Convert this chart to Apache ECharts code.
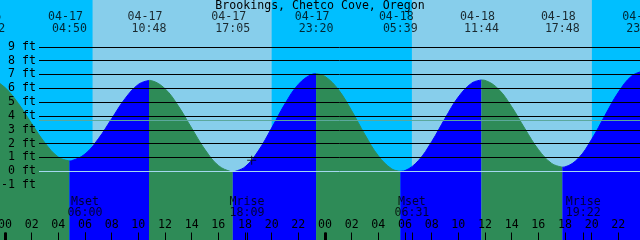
<!DOCTYPE html>
<html><head><meta charset="utf-8">
<script src="https://cdn.jsdelivr.net/npm/echarts@6/dist/echarts.min.js"></script>
<style>html,body{margin:0;padding:0;background:#00BFFF}#c{width:640px;height:240px}</style>
</head><body><div id="c"></div>
<script>
// ---- data (hours counted from 04-17 00:00) ----
const titleText = 'Brookings, Chetco Cove, Oregon';
const eventHours   = [-1.3, 4.833, 10.8, 17.083, 23.333, 29.65, 35.733, 41.8, 47.9];
const eventHeights = [6.65, 0.75, 6.57, -0.05, 7.05, 0.0, 6.6, 0.3, 7.25];
const eventIsHigh  = [true, false, true, false, true, false, true, false, true];
const eventDates   = ['04-16', '04-17', '04-17', '04-17', '04-17', '04-18', '04-18', '04-18', '04-18'];
const eventClock   = ['22:42', '04:50', '10:48', '17:05', '23:20', '05:39', '11:44', '17:48', '23:54'];
const sampleHours   = [-2, -1, 0, 1, 2, 3, 4, 5, 6, 7, 8, 9, 10, 11, 12, 13, 14, 15, 16, 17, 18, 19, 20, 21, 22, 23, 24, 25, 26, 27, 28, 29, 30, 31, 32, 33, 34, 35, 36, 37, 38, 39, 40, 41, 42, 43, 44, 45, 46, 47, 48];
const sampleHeights = [6.55, 6.62, 6.05, 4.9, 3.45, 2.05, 1.03, 0.77, 1.25, 2.35, 3.8, 5.25, 6.28, 6.55, 5.97, 4.72, 3.12, 1.57, 0.42, -0.04, 0.32, 1.48, 3.13, 4.88, 6.28, 7.0, 6.86, 5.91, 4.38, 2.64, 1.12, 0.18, 0.05, 0.77, 2.14, 3.82, 5.37, 6.37, 6.57, 5.95, 4.67, 3.07, 1.58, 0.57, 0.32, 0.94, 2.31, 4.04, 5.71, 6.89, 7.24];
const sunRise = [6.567, 30.517];
const sunSet  = [20.0, 44.017];
const moonHours = [6.0, 18.15, 30.517, 43.367];
const moonKinds = ['Mset', 'Mrise', 'Mset', 'Mrise'];
const moonClock = ['06:00', '18:09', '06:31', '19:22'];
const hourTicks = [0, 2, 4, 6, 8, 10, 12, 14, 16, 18, 20, 22, 24, 26, 28, 30, 32, 34, 36, 38, 40, 42, 44, 46];
const midnightTicks = [0, 24];
const ftTicks = [-1, 0, 1, 2, 3, 4, 5, 6, 7, 8, 9];
const gridFt = [1, 2, 3, 4, 5, 6, 7, 8, 9];
const datumFt = 0;
const meanFt = 3.68;
const nowPoint = [18.5, 0.8];

// ---- style ----
const X0 = -0.375, X1 = 47.625, Y0 = -5, Y1 = 12.38;
const NIGHT = '#00BFFF', DAY = '#87CEEB', RISE = '#0000FF', FALL = '#2E8B57';
const FONT = 'DejaVu Sans Mono', FS = 11.6;
const pad2 = v => (v < 10 ? '0' : '') + v;

const tideData = sampleHours.map((h, i) => [h, sampleHeights[i]])
  .concat(eventHours.map((h, i) => [h, eventHeights[i]]))
  .sort((a, b) => a[0] - b[0]);

// split the tide curve at each high / low: rising parts blue, falling parts green
const bounds = [-Infinity].concat(eventHours, [Infinity]);
const tideSeries = [];
for (let k = 0; k + 1 < bounds.length; k++) {
  const a = bounds[k], b = bounds[k + 1];
  const seg = tideData.filter(d => d[0] >= a && d[0] <= b);
  const falling = k > 0 && eventIsHigh[k - 1];
  tideSeries.push({
    type: 'line', xAxisIndex: 0, yAxisIndex: 0, data: seg, z: 2, smooth: 0.4,
    showSymbol: false, silent: true, lineStyle: { width: 1, color: falling ? FALL : RISE },
    itemStyle: { color: falling ? FALL : RISE },
    areaStyle: { opacity: 1, origin: 'start', color: falling ? FALL : RISE }
  });
}

const txt = { color: '#000', fontFamily: FONT, fontSize: FS };
const hiddenAxisX = (extra) => Object.assign({
  gridIndex: 0, type: 'value', min: X0, max: X1, position: 'bottom', z: 10,
  axisLine: { show: false, onZero: false }, splitLine: { show: false }, axisLabel: { show: false }
}, extra);

const chart = echarts.init(document.getElementById('c'), null, { renderer: 'canvas' });
chart.setOption({
  animation: false,
  backgroundColor: NIGHT,
  title: { text: titleText, left: 'center', top: 0, padding: 0, z: 20,
    textStyle: Object.assign({ fontWeight: 'normal', lineHeight: 12 }, txt) },
  grid: [
    { left: 0, right: 0, top: 0, bottom: -0.5, outerBoundsMode: 'none', containLabel: false },
    { left: 39, right: 0, top: 0, bottom: -0.5, outerBoundsMode: 'none', containLabel: false }
  ],
  xAxis: [
    hiddenAxisX({
      axisTick: { show: true, inside: true, length: 8, customValues: hourTicks, lineStyle: { color: '#000', width: 1 } },
      axisLabel: Object.assign({ show: true, inside: true, margin: 10, customValues: hourTicks,
        formatter: v => pad2(Math.round(v) % 24) }, txt)
    }),
    hiddenAxisX({ axisTick: { show: true, inside: true, length: 8, customValues: midnightTicks, lineStyle: { color: '#000', width: 3 } } }),
    hiddenAxisX({ axisTick: { show: true, inside: true, length: 8, customValues: moonHours, lineStyle: { color: '#000', width: 1 } } }),
    { gridIndex: 1, type: 'value', min: 0, max: 1, show: false, axisLine: { onZero: false } }
  ],
  yAxis: [
    { gridIndex: 0, type: 'value', min: Y0, max: Y1, z: 10,
      axisLine: { show: false, onZero: false }, axisTick: { show: false }, splitLine: { show: false },
      axisLabel: Object.assign({ inside: true, align: 'right', margin: 36, customValues: ftTicks,
        formatter: v => v + ' ft' }, txt) },
    { gridIndex: 1, type: 'value', min: Y0, max: Y1, show: false, axisLine: { onZero: false } }
  ],
  series: [
    { type: 'line', xAxisIndex: 0, yAxisIndex: 0, data: [], z: 0, silent: true,
      markArea: { silent: true, itemStyle: { color: DAY, opacity: 1, borderWidth: 0 },
        data: sunRise.map((r, i) => [{ xAxis: r }, { xAxis: sunSet[i] }]) } },
    { type: 'line', xAxisIndex: 3, yAxisIndex: 1, data: [], z: 1, silent: true,
      markLine: { silent: true, symbol: ['none', 'none'], label: { show: false },
        lineStyle: { color: '#000', width: 1, type: 'solid', opacity: 1 },
        data: gridFt.map(v => ({ yAxis: v })) } },
    { type: 'line', xAxisIndex: 3, yAxisIndex: 1, data: [], z: 3, silent: true,
      markLine: { silent: true, symbol: ['none', 'none'], label: { show: false },
        data: [
          { yAxis: datumFt, lineStyle: { color: '#a4d8f0', width: 1, type: 'solid', opacity: 1 } },
          { yAxis: meanFt, lineStyle: { color: '#5ba89c', width: 1, type: 'solid', opacity: 1 } }
        ] } },
    { type: 'scatter', xAxisIndex: 0, yAxisIndex: 0, z: 4, silent: true,
      symbol: 'path://M4,0h1v9h-1zM0,4h9v1h-9z', symbolSize: [9, 9], itemStyle: { color: '#000' },
      data: [nowPoint] },
    { type: 'scatter', xAxisIndex: 0, yAxisIndex: 0, z: 5, silent: true, clip: false,
      symbolSize: 1, itemStyle: { color: 'rgba(0,0,0,0)' },
      data: eventHours.map((h, i) => ({ value: [h, Y1], name: eventDates[i] })),
      label: Object.assign({ show: true, position: 'inside', offset: [-4, 17], formatter: p => p.name }, txt) },
    { type: 'scatter', xAxisIndex: 0, yAxisIndex: 0, z: 5, silent: true, clip: false,
      symbolSize: 1, itemStyle: { color: 'rgba(0,0,0,0)' },
      data: eventHours.map((h, i) => ({ value: [h, Y1], name: eventClock[i] })),
      label: Object.assign({ show: true, position: 'inside', offset: [0, 29], formatter: p => p.name }, txt) },
    { type: 'scatter', xAxisIndex: 0, yAxisIndex: 0, z: 5, silent: true, clip: false,
      symbolSize: 1, itemStyle: { color: 'rgba(0,0,0,0)' },
      data: moonHours.map((h, i) => ({ value: [h, Y0], name: moonKinds[i] + '\n' + moonClock[i] })),
      label: Object.assign({ show: true, position: 'inside', offset: [0, -33], lineHeight: 11.6,
        formatter: p => p.name }, txt) }
  ].concat(tideSeries)
});
</script></body></html>
